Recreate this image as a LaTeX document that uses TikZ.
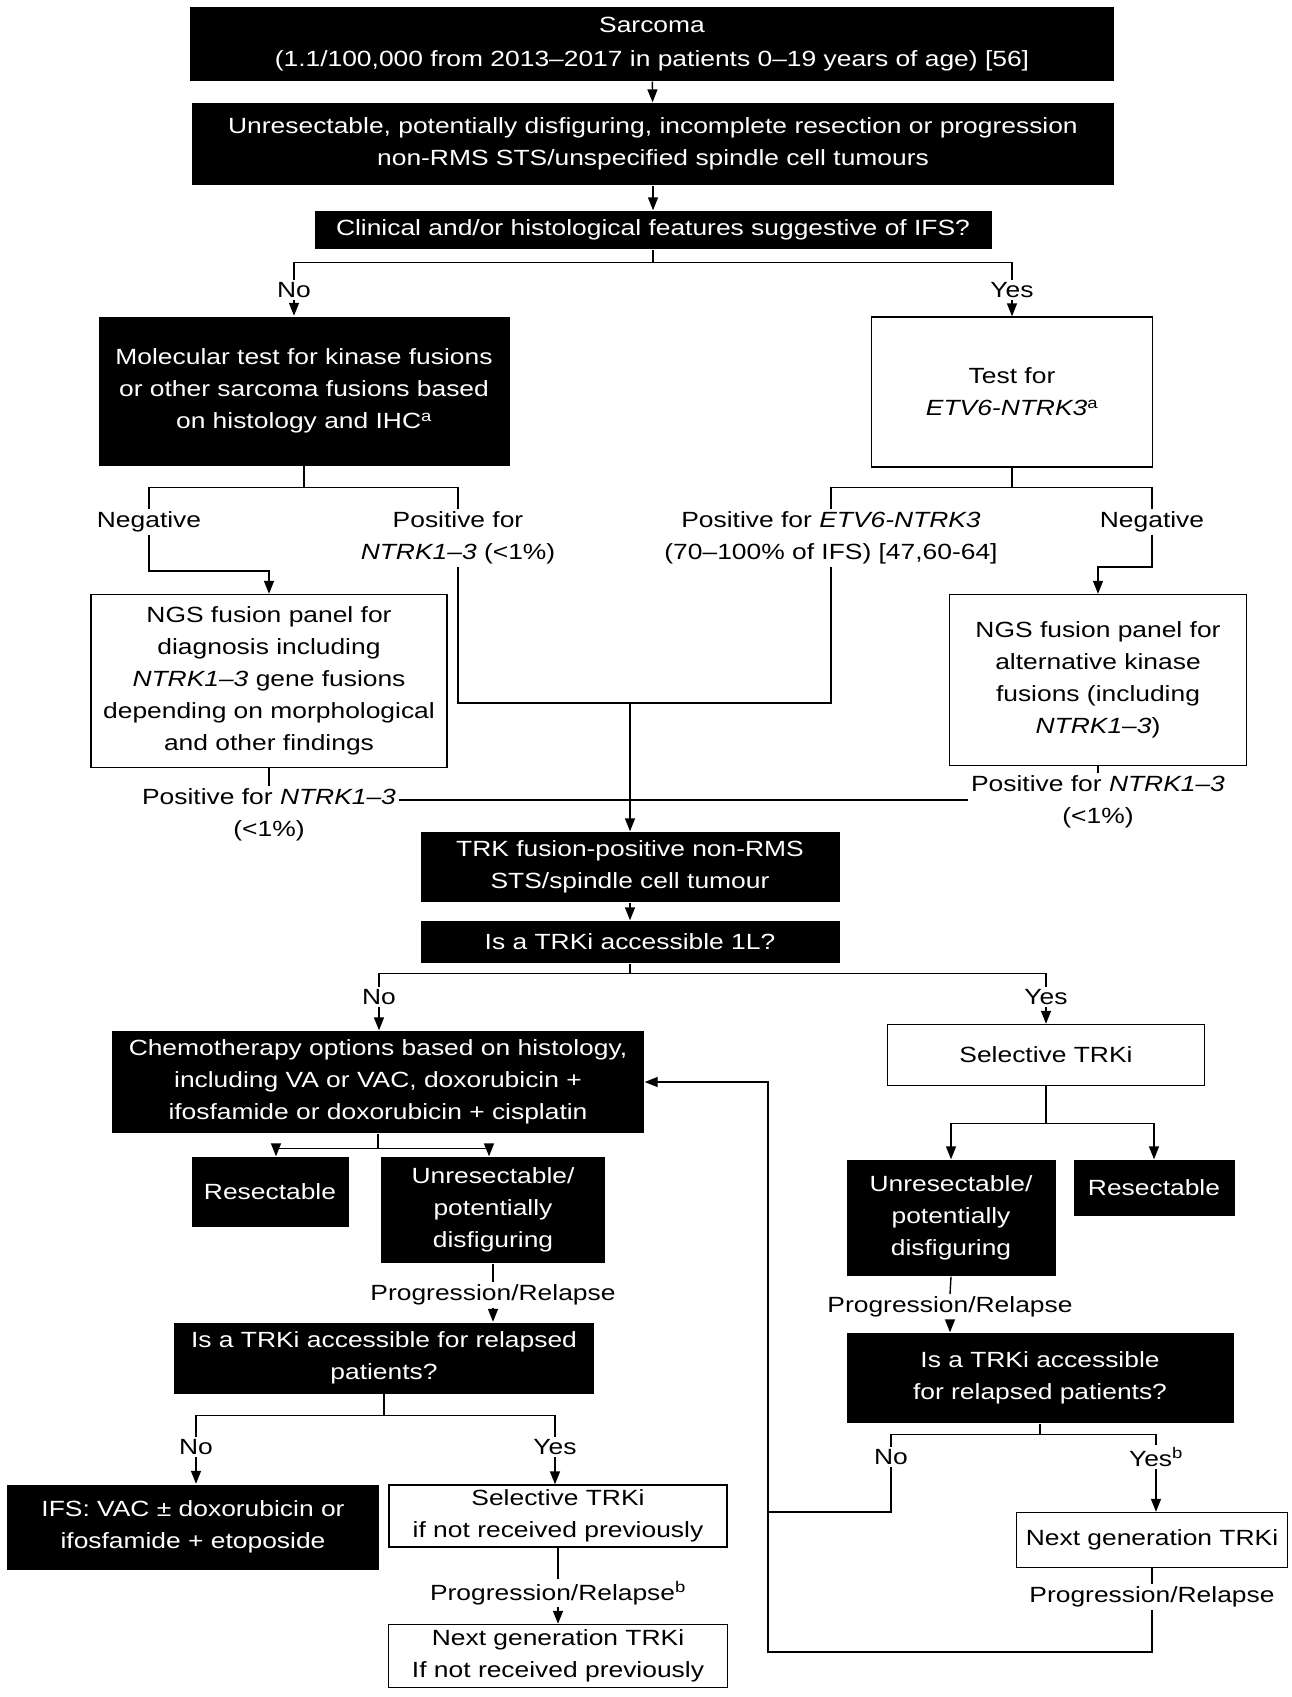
\documentclass[tikz,border=0pt]{standalone}
\usepackage{fontspec}
\setmainfont{Liberation Sans}[FakeStretch=1.2]
\usepackage{tikz}
\usetikzlibrary{arrows.meta,positioning,calc}

\begin{document}
\begin{tikzpicture}[x=1pt,y=-1pt,line width=1.4pt,>={Triangle[length=13pt,width=10pt]},
every node/.style={font=\fontsize{22}{32}\selectfont,inner sep=0pt},
blk node/.style 2 args={rectangle,fill=black,text=white,align=center,minimum width=#1pt,minimum height=#2pt},
wht node/.style 2 args={rectangle,draw,fill=white,align=center,minimum width=#1pt,minimum height=#2pt},
lbl node/.style={align=center,inner sep=2pt}]
\useasboundingbox (0,0) rectangle (1292,1697);
% boxes
\begin{scope}
\node[blk node={924}{74}] (sarc) at (652,44) {Sarcoma\\[2pt](1.1/100,000 from 2013–2017 in patients 0–19 years of age) [56]};
\node[blk node={922}{82}] (unres) at (653,144) {Unresectable, potentially disfiguring, incomplete resection or progression\\non-RMS STS/unspecified spindle cell tumours};
\node[blk node={677}{38}] (clin) at (653,230) {Clinical and/or histological features suggestive of IFS?};
\node[blk node={411}{149}] (mol) at (304,391) {Molecular test for kinase fusions\\or other sarcoma fusions based\\on histology and IHC\textsuperscript{a}};
\node[wht node={281}{150}] (test) at (1012,392) {Test for\\\textit{ETV6-NTRK3}\textsuperscript{a}};
\node[wht node={356}{173}] (ngsL) at (269,681) {NGS fusion panel for\\diagnosis including\\\textit{NTRK1–3} gene fusions\\depending on morphological\\and other findings};
\node[wht node={297}{171}] (ngsR) at (1098,680) {NGS fusion panel for\\alternative kinase\\fusions (including\\\textit{NTRK1–3})};
\node[blk node={419}{70}] (trk) at (630,867) {TRK fusion-positive non-RMS\\STS/spindle cell tumour};
\node[blk node={419}{42}] (acc) at (630,942) {Is a TRKi accessible 1L?};
\node[blk node={532}{102}] (chemo) at (378,1082) {Chemotherapy options based on histology,\\including VA or VAC, doxorubicin +\\ifosfamide or doxorubicin + cisplatin};
\node[wht node={317}{61}] (selR) at (1046,1055) {Selective TRKi};
\node[blk node={157}{70}] (resL) at (270,1192) {Resectable};
\node[blk node={224}{106}] (unresL) at (493,1210) {Unresectable/\\potentially\\disfiguring};
\node[blk node={209}{116}] (unresR) at (951,1218) {Unresectable/\\potentially\\disfiguring};
\node[blk node={161}{56}] (resR) at (1154,1188) {Resectable};
\node[blk node={420}{71}] (relL) at (384,1358) {Is a TRKi accessible for relapsed\\patients?};
\node[blk node={387}{90}] (relR) at (1040,1378) {Is a TRKi accessible\\for relapsed patients?};
\node[blk node={372}{85}] (ifs) at (193,1527) {IFS: VAC ± doxorubicin or\\ifosfamide + etoposide};
\node[wht node={338}{62}] (selL) at (558,1516) {Selective TRKi\\if not received previously};
\node[wht node={339}{63}] (nextL) at (558,1656) {Next generation TRKi\\If not received previously};
\node[wht node={271}{55}] (nextR) at (1152,1540) {Next generation TRKi};
\end{scope}
% labels
\begin{scope}[every node/.append style={lbl node}]
\node (noA) at (294,290) {No};
\node (yesA) at (1012,290) {Yes};
\node (negL) at (149,522) {Negative};
\node (posL) at (458,538) {Positive for\\\textit{NTRK1–3} (<1\%)};
\node (posR) at (831,538) {Positive for \textit{ETV6-NTRK3}\\(70–100\% of IFS) [47,60-64]};
\node (negR) at (1152,522) {Negative};
\node (posNL) at (269,815) {Positive for \textit{NTRK1–3}\\(<1\%)};
\node (posNR) at (1098,802) {Positive for \textit{NTRK1–3}\\(<1\%)};
\node (noB) at (379,997) {No};
\node (yesB) at (1046,997) {Yes};
\node (progL) at (493,1295) {Progression/Relapse};
\node (progR) at (950,1307) {Progression/Relapse};
\node (noC) at (196,1447) {No};
\node (yesC) at (555,1447) {Yes};
\node (noD) at (891,1457) {No};
\node (yesD) at (1156,1457) {Yes\textsuperscript{b}};
\node (progL2) at (558,1593) {Progression/Relapse\textsuperscript{b}};
\node (progR2) at (1152,1597) {Progression/Relapse};
\end{scope}
\coordinate (mrg) at (630,703);
\coordinate (mrg2) at (630,800);
\coordinate (lpn) at (768,1512);
\coordinate (lpb) at (768,1652);
% connectors
\draw[->] (sarc) -- (unres);
\draw[->] (unres) -- (clin);
\draw (clin.south) -- ++(0,13) coordinate (clinj);
\draw (noA.north) |- (clinj) -| (yesA.north);
\draw[->] (noA.south) -- (noA.south |- mol.north);
\draw[->] (yesA.south) -- (yesA.south |- test.north);
\draw (mol.south) -- ++(0,21) coordinate (molj);
\draw (negL.north) |- (molj) -| (posL.north);
\draw[->] (negL.south) |- (ngsL.north |- 0,571) -- (ngsL.north);
\draw (test.south) -- ++(0,20) coordinate (testj);
\draw (posR.north) |- (testj) -| (negR.north);
\draw[->] (negR.south) |- (ngsR.north |- 0,567) -- (ngsR.north);
\draw (posL.south) |- (mrg);
\draw (posR.south) |- (mrg);
\draw (ngsL.south) -- (posNL.north);
\draw (posNL.east |- mrg2) -- (mrg2);
\draw (ngsR.south) -- (posNR.north);
\draw (posNR.west |- mrg2) -- (mrg2);
\draw[->] (mrg) -- (trk.north);
\draw[->] (trk) -- (acc);
\draw (acc.south) -- ++(0,10) coordinate (accj);
\draw (noB.north) |- (accj) -| (yesB.north);
\draw[->] (noB.south) -- (noB.south |- chemo.north);
\draw[->] (yesB.south) -- (yesB.south |- selR.north);
\draw (chemo.south) -- ++(0,15) coordinate (chemoj);
\draw[->] (chemoj) -| ([xshift=6pt]resL.north);
\draw[->] (chemoj) -| ([xshift=-4pt]unresL.north);
\draw (unresL.south) -- (progL.north);
\draw[->] (progL.south) -- (progL.south |- relL.north);
\draw (selR.south) -- ++(0,37) coordinate (selj);
\draw[->] (selj) -| (unresR.north);
\draw[->] (selj) -| (resR.north);
\draw (unresR.south) -- (progR.north);
\draw[->] (progR.south) -- (progR.south |- relR.north);
\draw (relL.south) -- ++(0,21) coordinate (relLj);
\draw (noC.north) |- (relLj) -| (yesC.north);
\draw[->] (noC.south) -- (noC.south |- ifs.north);
\draw[->] (yesC.south) -- (yesC.south |- selL.north);
\draw (selL.south) -- (progL2.north);
\draw[->] (progL2.south) -- (progL2.south |- nextL.north);
\draw (relR.south) -- ++(0,11) coordinate (relRj);
\draw (noD.north) |- (relRj) -| (yesD.north);
\draw[->] (yesD.south) -- (yesD.south |- nextR.north);
\draw (noD.south) |- (lpn);
\draw (nextR.south) -- (progR2.north);
\draw[->] (progR2.south) |- (lpb) |- (chemo.east);
\end{tikzpicture}
\end{document}
